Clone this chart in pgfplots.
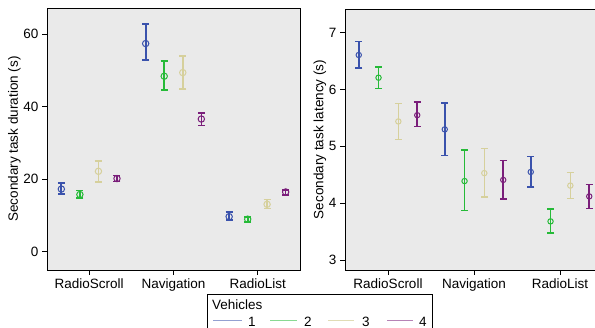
\documentclass[border=0pt]{standalone}
\usepackage{pgfplots}
\pgfplotsset{compat=1.18}
\usepackage{fontspec}
\setmainfont{Liberation Sans}
\definecolor{cA}{RGB}{58,82,172}
\definecolor{cB}{RGB}{38,186,56}
\definecolor{cC}{RGB}{214,208,156}
\definecolor{cD}{RGB}{122,30,122}
\definecolor{bggray}{RGB}{234,234,234}
\newcommand{\fs}{\fontsize{13.5}{16}\selectfont}
\pgfplotsset{
  myax/.style={scale only axis, axis background/.style={fill=bggray},
    xmin=-0.5, xmax=2.5, xtick={0,1,2}, xticklabels={RadioScroll,Navigation,RadioList},
    tick align=outside, xtick pos=bottom, ytick pos=left, major tick length=5pt,
    tick style={black, line width=0.8pt}, axis line style={line width=0.9pt},
    ticklabel style={font=\fs}, label style={font=\fs}, ylabel shift=-4pt,
    /pgf/number format/assume math mode=true, clip=false},
  ser/.style n args={3}{only marks, color=#1, mark=o, mark size=#2, mark options={line width=1pt},
    error bars/.cd, y dir=both, y explicit, error bar style={line width=#3},
    error mark options={rotate=90, mark size=3.5pt, line width=#3}},
}
\begin{document}
\begin{tikzpicture}[x=1pt,y=1pt]
% ---- Left: duration
\begin{axis}[myax, at={(47pt,58pt)}, anchor=south west, width=253pt, height=262pt,
  ymin=-5, ymax=67.2, ytick={0,20,40,60}, ylabel={Secondary task duration (s)}]
\addplot[ser={cA}{3.2pt}{1.7pt}] table[x=x,y=y,y error plus=ep,y error minus=em] {
x y ep em
-0.33 17.3 1.6 1.4
0.67 57.4 5.3 4.6
1.66 9.7 1.2 1.0
};
\addplot[ser={cB}{3.2pt}{1.8pt}] table[x=x,y=y,y error plus=ep,y error minus=em] {
x y ep em
-0.11 15.8 1.1 1.0
0.89 48.4 4.2 3.8
1.88 9.0 0.6 0.8
};
\addplot[ser={cC}{3.2pt}{1.5pt}] table[x=x,y=y,y error plus=ep,y error minus=em] {
x y ep em
0.11 22.2 2.9 2.9
1.11 49.4 4.6 4.5
2.11 13.1 1.3 1.2
};
\addplot[ser={cD}{3.2pt}{1.6pt}] table[x=x,y=y,y error plus=ep,y error minus=em] {
x y ep em
0.33 20.2 0.8 0.8
1.33 36.6 1.6 1.8
2.33 16.5 0.6 0.9
};
\end{axis}
% ---- Right: latency
\begin{axis}[myax, at={(345pt,58pt)}, anchor=south west, width=258pt, height=261pt,
  ymin=2.824, ymax=7.42, ytick={3,4,5,6,7}, ylabel={Secondary task latency (s)}]
\addplot[ser={cA}{2.7pt}{1.7pt}] table[x=x,y=y,y error plus=ep,y error minus=em] {
x y ep em
-0.34 6.61 0.24 0.23
0.66 5.30 0.46 0.46
1.66 4.55 0.27 0.26
};
\addplot[ser={cB}{2.7pt}{1.8pt}] table[x=x,y=y,y error plus=ep,y error minus=em] {
x y ep em
-0.11 6.21 0.19 0.19
0.89 4.39 0.54 0.52
1.89 3.68 0.22 0.20
};
\addplot[ser={cC}{2.7pt}{1.5pt}] table[x=x,y=y,y error plus=ep,y error minus=em] {
x y ep em
0.12 5.44 0.32 0.32
1.12 4.53 0.43 0.42
2.12 4.31 0.23 0.23
};
\addplot[ser={cD}{2.7pt}{1.6pt}] table[x=x,y=y,y error plus=ep,y error minus=em] {
x y ep em
0.34 5.55 0.23 0.20
1.34 4.41 0.34 0.34
2.34 4.12 0.21 0.21
};
\end{axis}
% ---- Legend
\draw[line width=0.8pt, fill=white] (207,-12) rectangle (432,34);
\node[anchor=base west, inner sep=0pt, font=\fs] at (212,18) {Vehicles};
\draw[cA!55!white, line width=1pt] (213,7) -- (242,7);
\node[anchor=base west, inner sep=0pt, font=\fs] at (248,1.5) {1};
\draw[cB!55!white, line width=1pt] (270,7) -- (297,7);
\node[anchor=base west, inner sep=0pt, font=\fs] at (304,1.5) {2};
\draw[cC!75!white, line width=1pt] (328,7) -- (354,7);
\node[anchor=base west, inner sep=0pt, font=\fs] at (362,1.5) {3};
\draw[cD!55!white, line width=1pt] (387,7) -- (413,7);
\node[anchor=base west, inner sep=0pt, font=\fs] at (419,1.5) {4};
\pgfresetboundingbox
\path[use as bounding box] (0,0) rectangle (595,328);
\end{tikzpicture}
\end{document}
